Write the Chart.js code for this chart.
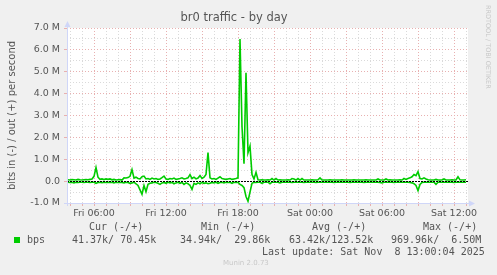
<!DOCTYPE html>
<html>
<head>
<title>br0 traffic - by day</title>
<script src="https://cdn.jsdelivr.net/npm/chart.js"></script>
<style>
  body { margin: 0; background: #f0f0f0; }
  #wrap { position: relative; width: 497px; height: 275px; color: #555; }
  #wrap canvas { position: absolute; left: 0; top: 0; }
  .t { position: absolute; white-space: pre; font-family: "DejaVu Sans Mono", monospace; font-size: 10px; line-height: 12px; }
  .sq { position: absolute; left: 14px; top: 237px; width: 6px; height: 6px; background: #00cc00; }
  .munin { position: absolute; left: 223px; top: 259px; font: 7px "DejaVu Sans", sans-serif; color: #c8c8c8; }
  .rrd { position: absolute; left: 484px; top: 5px; writing-mode: vertical-rl; font: 6.5px "DejaVu Sans", sans-serif; color: #c8c8c8; }
</style>
</head>
<body>
<div id="wrap">
  <canvas id="traffic" width="497" height="275"></canvas>
  <div class="t" style="left:89px;top:221px">Cur (-/+)</div>
  <div class="t" style="left:201px;top:221px">Min (-/+)</div>
  <div class="t" style="left:312px;top:221px">Avg (-/+)</div>
  <div class="t" style="left:423px;top:221px">Max (-/+)</div>
  <div class="sq"></div>
  <div class="t" style="left:27px;top:234px">bps</div>
  <div class="t" style="left:72px;top:234px">41.37k/ 70.45k</div>
  <div class="t" style="left:180px;top:234px">34.94k/  29.86k</div>
  <div class="t" style="left:289px;top:234px">63.42k/123.52k</div>
  <div class="t" style="left:391px;top:234px">969.96k/  6.50M</div>
  <div class="t" style="left:262px;top:246px">Last update: Sat Nov  8 13:00:04 2025</div>
  <div class="munin">Munin 2.0.73</div>
  <div class="rrd">RRDTOOL / TOBI OETIKER</div>
</div>
<script>
// samples every 10 minutes, first one Fri 03:50, last one Sat 13:00 (hours counted from Fri 00:00)
const startHour = 3 + 50 / 60;
const stepHours = 10 / 60;

// out (+), Mbit/s
const outBps = [
  0.06,0.05,0.07,0.06,0.05,0.08,0.06,0.05,0.06,0.07,
  0.06,0.08,0.10,0.22,0.62,0.18,0.08,0.10,0.07,0.10,
  0.08,0.10,0.06,0.08,0.05,0.06,0.07,0.05,0.15,0.14,
  0.16,0.22,0.53,0.14,0.18,0.12,0.10,0.20,0.23,0.10,
  0.12,0.08,0.14,0.10,0.12,0.08,0.10,0.16,0.23,0.10,
  0.08,0.12,0.10,0.14,0.08,0.10,0.12,0.15,0.10,0.12,
  0.15,0.30,0.12,0.18,0.10,0.14,0.25,0.12,0.18,0.30,
  1.30,0.15,0.10,0.12,0.08,0.14,0.20,0.12,0.10,0.08,
  0.10,0.12,0.08,0.10,0.12,0.15,6.50,2.50,0.80,4.95,
  1.30,1.60,0.30,0.10,0.40,0.06,0.05,0.06,0.05,0.05,
  0.06,0.05,0.12,0.05,0.12,0.05,0.06,0.05,0.05,0.05,
  0.06,0.05,0.12,0.10,0.05,0.12,0.05,0.12,0.05,0.05,
  0.05,0.05,0.06,0.05,0.05,0.06,0.15,0.05,0.05,0.05,
  0.05,0.06,0.05,0.05,0.05,0.05,0.05,0.06,0.05,0.05,
  0.05,0.05,0.05,0.06,0.05,0.05,0.05,0.05,0.05,0.06,
  0.05,0.05,0.05,0.05,0.05,0.10,0.05,0.05,0.05,0.10,
  0.05,0.06,0.05,0.05,0.05,0.05,0.06,0.05,0.12,0.08,
  0.12,0.15,0.20,0.30,0.25,0.43,0.12,0.10,0.15,0.10,
  0.06,0.05,0.05,0.05,0.08,0.05,0.05,0.05,0.10,0.05,
  0.05,0.05,0.06,0.05,0.05,0.20,0.06,0.05,0.05,0.06
];

// in (-), Mbit/s
const inBps = [
  -0.05,-0.06,-0.05,-0.08,-0.05,-0.06,-0.05,-0.05,-0.06,-0.05,
  -0.05,-0.06,-0.05,-0.05,-0.10,-0.06,-0.05,-0.07,-0.05,-0.06,
  -0.05,-0.06,-0.05,-0.08,-0.05,-0.06,-0.05,-0.06,-0.08,-0.05,
  -0.06,-0.10,-0.08,-0.05,-0.12,-0.20,-0.40,-0.60,-0.20,-0.48,
  -0.15,-0.10,-0.08,-0.05,-0.06,-0.10,-0.15,-0.08,-0.06,-0.10,
  -0.05,-0.08,-0.06,-0.12,-0.08,-0.05,-0.10,-0.06,-0.15,-0.08,
  -0.12,-0.20,-0.38,-0.10,-0.15,-0.08,-0.12,-0.06,-0.10,-0.08,
  -0.12,-0.10,-0.06,-0.08,-0.05,-0.10,-0.06,-0.05,-0.08,-0.05,
  -0.06,-0.05,-0.10,-0.05,-0.06,-0.05,-0.15,-0.20,-0.30,-0.70,
  -0.92,-0.50,-0.10,-0.05,-0.06,-0.05,-0.05,-0.10,-0.05,-0.05,
  -0.05,-0.12,-0.05,-0.05,-0.05,-0.05,-0.08,-0.05,-0.05,-0.05,
  -0.05,-0.05,-0.06,-0.05,-0.05,-0.05,-0.05,-0.05,-0.06,-0.05,
  -0.05,-0.05,-0.05,-0.05,-0.06,-0.05,-0.05,-0.05,-0.05,-0.05,
  -0.05,-0.05,-0.05,-0.06,-0.05,-0.05,-0.05,-0.05,-0.05,-0.05,
  -0.05,-0.06,-0.05,-0.05,-0.05,-0.05,-0.05,-0.05,-0.06,-0.05,
  -0.05,-0.05,-0.05,-0.05,-0.05,-0.05,-0.06,-0.08,-0.05,-0.05,
  -0.05,-0.05,-0.05,-0.06,-0.05,-0.05,-0.05,-0.05,-0.05,-0.05,
  -0.05,-0.06,-0.08,-0.12,-0.20,-0.43,-0.15,-0.06,-0.05,-0.05,
  -0.05,-0.05,-0.05,-0.05,-0.15,-0.05,-0.05,-0.05,-0.05,-0.05,
  -0.05,-0.05,-0.05,-0.06,-0.05,-0.05,-0.05,-0.05,-0.05,-0.05
];

const tickHours = [6, 12, 18, 24, 30, 36];
const tickLabels = ['Fri 06:00', 'Fri 12:00', 'Fri 18:00', 'Sat 00:00', 'Sat 06:00', 'Sat 12:00'];

const majorGrid = '#e8b0b0';
const minorGrid = '#dadada';
const axisColor = '#cfd6f8';
const green = '#00cc00';

const toPoints = arr => arr.map((v, i) => ({ x: startHour + i * stepHours, y: v }));

// white canvas, black zero rule, axis arrows
const muninLook = {
    id: 'muninLook',
    beforeDraw(chart) {
        const { ctx, chartArea: a } = chart;
        ctx.save();
        ctx.fillStyle = '#fff';
        ctx.fillRect(a.left, a.top, a.right - a.left, a.bottom - a.top);
        ctx.restore();
    },
    afterDatasetsDraw(chart) {
        const { ctx, chartArea: a, scales } = chart;
        const y0 = Math.round(scales.y.getPixelForValue(0)) + 0.5;
        ctx.save();
        ctx.strokeStyle = '#000';
        ctx.lineWidth = 1;
        ctx.setLineDash([2, 1]);
        ctx.beginPath();
        ctx.moveTo(a.left, y0);
        ctx.lineTo(a.right, y0);
        ctx.stroke();

        ctx.setLineDash([]);
        ctx.strokeStyle = axisColor;
        ctx.fillStyle = axisColor;
        const xl = Math.round(a.left) + 0.5, yb = Math.round(a.bottom) + 0.5;
        ctx.beginPath();
        ctx.moveTo(xl, a.bottom + 3);
        ctx.lineTo(xl, a.top - 3);
        ctx.moveTo(a.left - 3, yb);
        ctx.lineTo(a.right + 2, yb);
        ctx.stroke();
        ctx.beginPath();
        ctx.moveTo(xl - 3, a.top - 1);
        ctx.lineTo(xl + 3, a.top - 1);
        ctx.lineTo(xl, a.top - 7);
        ctx.fill();
        ctx.beginPath();
        ctx.moveTo(a.right + 1, yb - 3);
        ctx.lineTo(a.right + 1, yb + 3);
        ctx.lineTo(a.right + 7, yb);
        ctx.fill();
        ctx.restore();
    }
};

Chart.defaults.font.family = "'DejaVu Sans', sans-serif";
Chart.defaults.color = '#555';

new Chart(document.getElementById('traffic'), {
    type: 'line',
    data: {
        datasets: [
            { label: 'in', data: toPoints(inBps), borderColor: green, borderWidth: 1.6, pointRadius: 0, fill: false, tension: 0 },
            { label: 'out', data: toPoints(outBps), borderColor: green, borderWidth: 1.6, pointRadius: 0, fill: false, tension: 0 }
        ]
    },
    options: {
        responsive: false,
        animation: false,
        layout: { padding: { left: 0, right: 29, top: 0, bottom: 52 } },
        plugins: {
            legend: { display: false },
            tooltip: { enabled: false },
            title: {
                display: true,
                text: 'br0 traffic - by day',
                color: '#555',
                font: { size: 11.5, weight: 'normal' },
                padding: { top: 11, bottom: 3.2 }
            }
        },
        scales: {
            x: {
                type: 'linear',
                min: 3.75,
                max: 37 + 1 / 6,
                afterFit(s) { s.height = 20; },
                ticks: {
                    stepSize: 1,
                    includeBounds: false,
                    autoSkip: false,
                    maxRotation: 0,
                    padding: 2,
                    font: { size: 9.5 },
                    callback: v => {
                        const k = tickHours.indexOf(v);
                        return k < 0 ? '' : tickLabels[k];
                    }
                },
                grid: {
                    color: c => (c.tick && c.tick.value % 3 === 0) ? majorGrid : minorGrid,
                    tickLength: 3,
                    tickColor: majorGrid
                },
                border: { display: false, dash: [1, 2] }
            },
            y: {
                min: -1,
                max: 7,
                afterFit(s) { s.width = 67; },
                ticks: {
                    stepSize: 0.5,
                    autoSkip: false,
                    padding: 4,
                    font: { size: 9.5 },
                    callback: v => Number.isInteger(v) ? (v === 0 ? '0.0' : v.toFixed(1) + ' M') : ''
                },
                grid: {
                    color: c => (c.tick && Number.isInteger(c.tick.value)) ? majorGrid : minorGrid,
                    tickLength: 3,
                    tickColor: c => (c.tick && Number.isInteger(c.tick.value)) ? majorGrid : 'rgba(0,0,0,0)'
                },
                border: { display: false, dash: [1, 2] },
                title: {
                    display: true,
                    text: 'bits in (-) / out (+) per second',
                    color: '#555',
                    font: { size: 10 },
                    padding: { top: 6, bottom: 0 }
                }
            }
        }
    },
    plugins: [muninLook]
});
</script>
</body>
</html>
